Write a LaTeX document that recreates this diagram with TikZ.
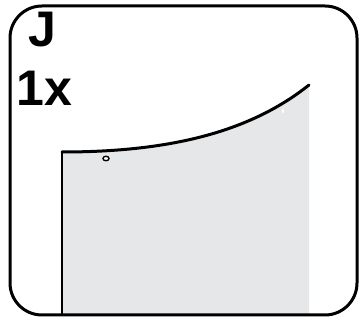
\documentclass[tikz,border=0pt]{standalone}
\usepackage{fontspec}
\setmainfont{Liberation Sans}
\usetikzlibrary{shapes.geometric}
\definecolor{panelgray}{HTML}{E6E7E8}
\tikzset{
  lbl/.style={font=\fontsize{50}{50}\selectfont\bfseries, inner sep=0pt, anchor=base west},
  frame/.style={draw=black, line width=3pt, rounded corners=32pt},
}
\begin{document}
\begin{tikzpicture}[x=1pt,y=-1pt]
\useasboundingbox (0,0) rectangle (359,320);
\coordinate (tl) at (62,152);
\coordinate (tr) at (309,85);
\coordinate (br) at (309,314);
\coordinate (bl) at (62,314);
\fill[panelgray] (tl) .. controls (170,152) and (250,132) .. (tr) -- (br) -- (bl) -- cycle;
\draw[line width=1.5pt] (tl) -- (bl);
\draw[line width=3pt, line cap=round] (tl) .. controls (170,152) and (250,132) .. (tr);
\node[draw=black, fill=white, line width=1.4pt, ellipse, minimum width=6pt, minimum height=4.5pt, inner sep=0pt] (hole) at (106,158.5) {};
\node[fill=white, ellipse, minimum width=2pt, minimum height=4pt, inner sep=0pt] (glint) at (283,111) {};
\draw[frame] (10,6) rectangle (357,315);
\node[lbl] (j) at (28,47) {J};
\node[lbl] (qty) at (16,106) {1x};
\end{tikzpicture}
\end{document}
